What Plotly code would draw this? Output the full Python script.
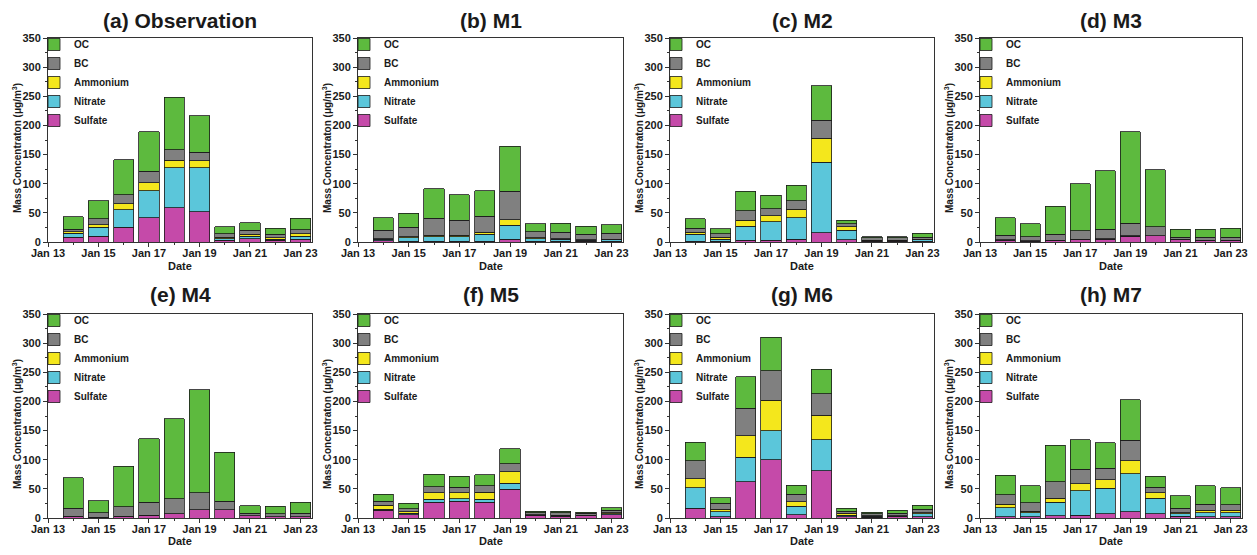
import plotly.graph_objects as go

# ---------------- data ----------------
dates = ["2019-01-14", "2019-01-15", "2019-01-16", "2019-01-17", "2019-01-18",
         "2019-01-19", "2019-01-20", "2019-01-21", "2019-01-22", "2019-01-23"]
species = ["Sulfate", "Nitrate", "Ammonium", "BC", "OC"]
panel_titles = ["(a) Observation", "(b) M1", "(c) M2", "(d) M3",
                "(e) M4", "(f) M5", "(g) M6", "(h) M7"]
y_ticks = [0, 50, 100, 150, 200, 250, 300, 350]

obs_sulfate = [8, 10, 25, 42, 59, 52, 3, 6, 3, 5]
obs_nitrate = [7, 15, 30, 46, 68, 75, 3, 4, 2, 5]
obs_ammonium = [3, 5, 11, 14, 13, 12, 2, 3, 2, 4]
obs_bc = [4, 10, 15, 19, 18, 15, 6, 7, 6, 7]
obs_oc = [21, 31, 60, 68, 90, 63, 12, 13, 11, 20]

m1_sulfate = [2, 1, 1, 1, 1, 5, 1, 1, 1, 1]
m1_nitrate = [3, 6, 8, 8, 12, 24, 5, 4, 2, 3]
m1_ammonium = [1, 2, 3, 3, 4, 9, 1, 1, 1, 1]
m1_bc = [14, 16, 29, 25, 27, 49, 11, 11, 9, 10]
m1_oc = [22, 24, 50, 44, 44, 77, 13, 15, 14, 15]

m2_sulfate = [1, 1, 3, 3, 5, 16, 4, 1, 1, 1]
m2_nitrate = [12, 4, 24, 32, 37, 121, 16, 1, 1, 3]
m2_ammonium = [4, 3, 10, 10, 14, 41, 6, 1, 1, 1]
m2_bc = [7, 6, 17, 12, 15, 31, 5, 4, 4, 3]
m2_oc = [16, 9, 33, 23, 26, 59, 6, 2, 2, 7]

m3_sulfate = [3, 1, 2, 4, 5, 9, 11, 4, 2, 2]
m3_nitrate = [1, 1, 1, 1, 1, 1, 0, 1, 1, 1]
m3_ammonium = [0, 0, 0, 0, 0, 1, 0, 0, 0, 0]
m3_bc = [8, 7, 10, 14, 16, 21, 15, 3, 5, 5]
m3_oc = [30, 22, 48, 81, 100, 157, 98, 14, 14, 16]

m4_sulfate = [3, 1, 3, 5, 7, 14, 14, 4, 2, 2]
m4_nitrate = [0, 0, 0, 0, 0, 0, 0, 0, 0, 0]
m4_ammonium = [0, 0, 0, 0, 0, 0, 0, 0, 0, 0]
m4_bc = [14, 8, 16, 22, 26, 29, 15, 4, 5, 6]
m4_oc = [52, 21, 70, 109, 137, 177, 84, 13, 13, 19]

m5_sulfate = [13, 6, 27, 29, 27, 49, 4, 3, 4, 6]
m5_nitrate = [2, 2, 5, 4, 5, 11, 1, 1, 1, 1]
m5_ammonium = [7, 3, 11, 10, 12, 19, 1, 1, 0, 2]
m5_bc = [7, 5, 11, 10, 11, 14, 3, 4, 3, 4]
m5_oc = [12, 9, 21, 19, 19, 26, 3, 3, 2, 5]

m6_sulfate = [17, 2, 62, 100, 6, 81, 2, 1, 2, 2]
m6_nitrate = [35, 9, 42, 50, 14, 53, 3, 2, 1, 5]
m6_ammonium = [15, 4, 37, 52, 8, 42, 3, 1, 1, 2]
m6_bc = [31, 10, 47, 51, 13, 37, 4, 3, 4, 6]
m6_oc = [32, 10, 54, 57, 15, 42, 5, 3, 5, 7]

m7_sulfate = [2, 2, 4, 5, 7, 11, 7, 3, 2, 2]
m7_nitrate = [16, 7, 23, 42, 44, 65, 27, 4, 7, 7]
m7_ammonium = [6, 3, 7, 12, 15, 22, 9, 2, 4, 4]
m7_bc = [16, 14, 28, 25, 19, 35, 10, 8, 11, 10]
m7_oc = [33, 29, 63, 50, 44, 70, 19, 21, 31, 29]

panels = [
    [obs_sulfate, obs_nitrate, obs_ammonium, obs_bc, obs_oc],
    [m1_sulfate, m1_nitrate, m1_ammonium, m1_bc, m1_oc],
    [m2_sulfate, m2_nitrate, m2_ammonium, m2_bc, m2_oc],
    [m3_sulfate, m3_nitrate, m3_ammonium, m3_bc, m3_oc],
    [m4_sulfate, m4_nitrate, m4_ammonium, m4_bc, m4_oc],
    [m5_sulfate, m5_nitrate, m5_ammonium, m5_bc, m5_oc],
    [m6_sulfate, m6_nitrate, m6_ammonium, m6_bc, m6_oc],
    [m7_sulfate, m7_nitrate, m7_ammonium, m7_bc, m7_oc],
]

# ---------------- style ----------------
colors = {"Sulfate": "#c54aa9", "Nitrate": "#5bc6da", "Ammonium": "#f4e71c",
          "BC": "#808080", "OC": "#5dba3e"}
FONT = "Arial, 'Liberation Sans', sans-serif"
TXT = "#1a1a1a"
OFF = 8                      # default page body margin
FW, FH = 1257 - 2 * OFF, 555 - 2 * OFF
col_px = [(48, 312), (358, 623), (670, 934), (980, 1242)]
row_px = [(38, 242), (314, 518)]
title_y_px = [21, 294]
date_gap = [24, 23]
DAY_MS = 86400000


def px_x(X):
    return (X - OFF) / FW


def px_y(Y):
    return 1 - (Y - OFF) / FH


fig = go.Figure()
layout = dict(
    template="none",
    width=FW, height=FH, margin=dict(l=0, r=0, t=0, b=0, autoexpand=False),
    paper_bgcolor="white", plot_bgcolor="white", barmode="stack",
    font=dict(family=FONT, size=11, color=TXT, weight="bold"),
    annotations=[],
)

for i, vals in enumerate(panels):
    r, c = divmod(i, 4)
    n = i + 1
    xa = "x" if n == 1 else f"x{n}"
    ya = "y" if n == 1 else f"y{n}"
    lg = "legend" if n == 1 else f"legend{n}"
    for sp, v in zip(species, vals):
        fig.add_trace(go.Bar(
            x=dates, y=v, name=sp, xaxis=xa, yaxis=ya, legend=lg,
            width=0.8 * DAY_MS,
            marker=dict(color=colors[sp], line=dict(color=TXT, width=0.8)),
        ))
    x0, x1 = col_px[c]
    y0, y1 = row_px[r]
    dom_x = [px_x(x0), px_x(x1)]
    dom_y = [px_y(y1), px_y(y0)]
    layout["xaxis" if n == 1 else f"xaxis{n}"] = dict(
        domain=dom_x, anchor=ya, type="date", automargin=False,
        range=["2019-01-13", "2019-01-23 11:00"],
        tick0="2019-01-13", dtick=2 * DAY_MS, tickformat="%b %d",
        ticks="outside", ticklen=4, tickwidth=1, tickcolor="#333",
        ticklabelstandoff=-3, ticklabeloverflow="allow",
        minor=dict(dtick=DAY_MS, ticks="outside", ticklen=2, tickcolor="#333"),
        showline=True, mirror=True, linecolor="#333", linewidth=1,
        showgrid=False, zeroline=False,
        tickfont=dict(size=11, family=FONT, weight="bold", color=TXT),
    )
    layout["yaxis" if n == 1 else f"yaxis{n}"] = dict(
        domain=dom_y, anchor=xa, range=[0, 350], automargin=False,
        tickvals=y_ticks, ticks="outside", ticklen=4, tickwidth=1, tickcolor="#333",
        minor=dict(dtick=25, ticks="outside", ticklen=2, tickcolor="#333"),
        showline=True, mirror=True, linecolor="#333", linewidth=1,
        showgrid=False, zeroline=False,
        tickfont=dict(size=11, family=FONT, weight="bold", color=TXT),
    )
    layout[lg] = dict(
        x=px_x(x0 - 14), y=px_y(y0 - 8), xanchor="left", yanchor="top",
        xref="paper", yref="paper", traceorder="reversed",
        bgcolor="rgba(255,255,255,0)", borderwidth=0,
        font=dict(size=10, family=FONT, weight="bold", color=TXT),
        itemwidth=30, tracegroupgap=0,
    )
    # panel title
    layout["annotations"].append(dict(
        text=panel_titles[i], x=(dom_x[0] + dom_x[1]) / 2, y=px_y(title_y_px[r]),
        xref="paper", yref="paper", xanchor="center", yanchor="middle",
        showarrow=False, font=dict(size=21, family=FONT, weight="bold", color=TXT),
    ))
    # y axis title
    layout["annotations"].append(dict(
        text="Mass Concentraton (\u03bcg/m<sup>3</sup>)", textangle=-90,
        x=px_x(x0 - 31), y=px_y((y0 + y1) / 2 + 8),
        xref="paper", yref="paper", xanchor="center", yanchor="middle",
        showarrow=False, font=dict(size=10, family=FONT, weight="bold", color=TXT),
    ))
    # x axis title
    layout["annotations"].append(dict(
        text="Date", x=(dom_x[0] + dom_x[1]) / 2, y=px_y(y1 + date_gap[r]),
        xref="paper", yref="paper", xanchor="center", yanchor="middle",
        showarrow=False, font=dict(size=11, family=FONT, weight="bold", color=TXT),
    ))

fig.update_layout(**layout)
fig.write_html("out.html")
